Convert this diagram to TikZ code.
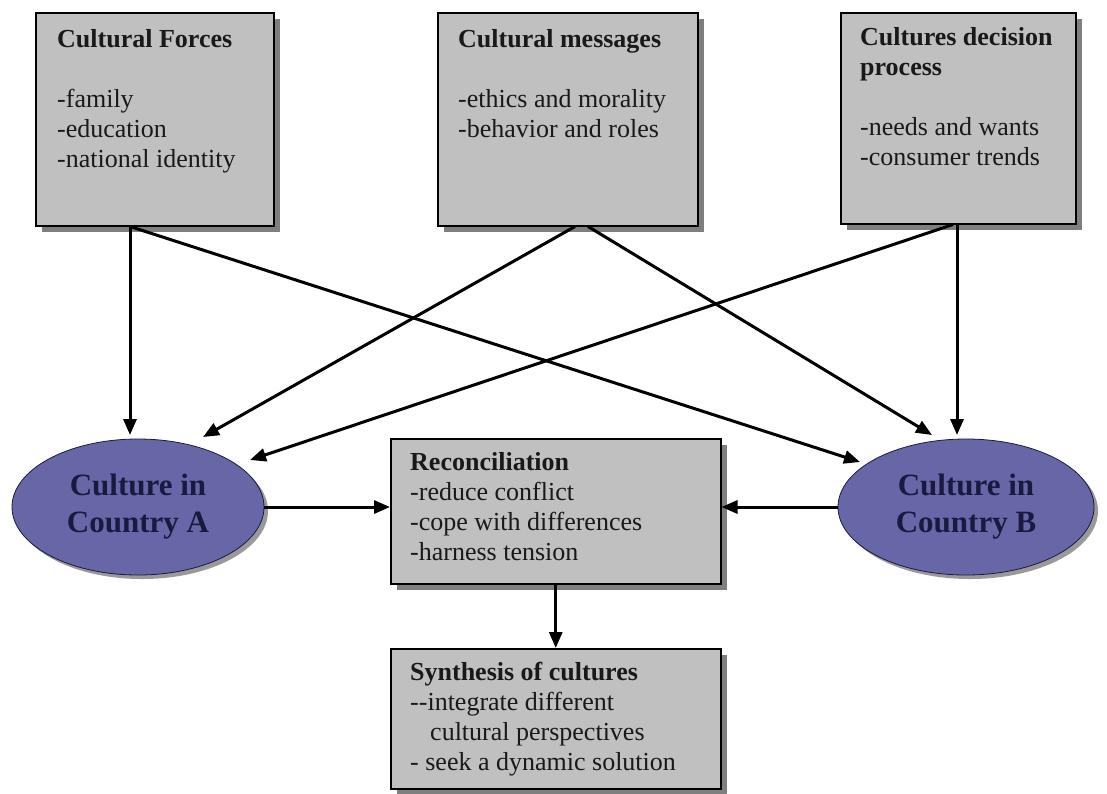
\documentclass[tikz,border=0pt]{standalone}
\usepackage{fontspec}
\setmainfont{Liberation Serif}
\usetikzlibrary{arrows.meta,shadows,calc,shapes.geometric}
\definecolor{boxgray}{HTML}{C0C0C0}
\definecolor{shadowgray}{HTML}{7F7F7F}
\definecolor{ellfill}{HTML}{6767A8}
\definecolor{elltext}{HTML}{1A1A40}
\begin{document}
\begin{tikzpicture}[x=1pt,y=-1pt,
  box/.style={draw=black, line width=1.5pt, fill=boxgray,
    general shadow={fill=shadowgray, shadow xshift=6pt, shadow yshift=-6pt},
    anchor=north west, inner sep=0pt},
  btxt/.style={anchor=north west, inner sep=0pt, align=left,
    font=\fontsize{26}{30}\selectfont, text=black!90},
  ell/.style={ellipse, draw=elltext, line width=0.8pt, fill=ellfill,
    general shadow={fill=shadowgray!80, shadow xshift=4pt, shadow yshift=-4pt},
    minimum width=252pt, minimum height=136pt, inner sep=0pt, align=center,
    font=\fontsize{31}{37}\selectfont\bfseries, text=elltext},
  arr/.style={line width=3pt, -{Triangle[length=16pt,width=13pt]}}]
\useasboundingbox (0,0) rectangle (1107,793);
\fill[white] (0,0) rectangle (1107,793);

% top boxes
\node[box, minimum width=238pt, minimum height=213pt] (cf) at (35,12) {};
\node[btxt] (cft) at (57,29) {\textbf{Cultural Forces}\\[30pt]-family\\-education\\-national identity};

\node[box, minimum width=260pt, minimum height=213pt] (cm) at (437,12) {};
\node[btxt] (cmt) at (458,29) {\textbf{Cultural messages}\\[30pt]-ethics and morality\\-behavior and roles};

\node[box, minimum width=235pt, minimum height=211pt] (cd) at (840,12) {};
\node[btxt] (cdt) at (860,27) {\textbf{Cultures decision}\\\textbf{process}\\[30pt]-needs and wants\\-consumer trends};

% ellipses
\node[ell] (ca) at (138,507) {Culture in\\Country A};
\node[ell, minimum width=256pt] (cb) at (966,507) {Culture in\\Country B};

% middle boxes
\node[box, minimum width=330pt, minimum height=145pt] (rec) at (390,438) {};
\node[btxt] (rect) at (410,452) {\textbf{Reconciliation}\\-reduce conflict\\-cope with differences\\-harness tension};

\node[box, minimum width=330pt, minimum height=140pt] (syn) at (390,648) {};
\node[btxt] (synt) at (410,662) {\textbf{Synthesis of cultures}\\-{}-integrate different\\\hspace*{20pt}cultural perspectives\\- seek a dynamic solution};

% connectors
\draw[arr] ($(cf.south west)+(95,0)$) -- ($(ca.center)+(-8,-72)$);
\draw[arr] ($(cf.south west)+(95,0)$) -- ($(cb.center)+(-106,-45)$);
\draw[arr] ($(cm.south west)+(138,0)$) -- ($(ca.center)+(65,-70)$);
\draw[arr] ($(cm.south west)+(151,0)$) -- ($(cb.center)+(-34,-72)$);
\draw[arr] ($(cd.south west)+(117,0)$) -- ($(cb.center)+(-9,-72)$);
\draw[arr] ($(cd.south west)+(113,0)$) -- ($(ca.center)+(112,-47)$);
\draw[arr] (ca.east) -- (ca.east -| rec.west);
\draw[arr] (cb.west) -- (cb.west -| rec.east);
\draw[arr] (rec.south) -- (syn.north);
\end{tikzpicture}
\end{document}
